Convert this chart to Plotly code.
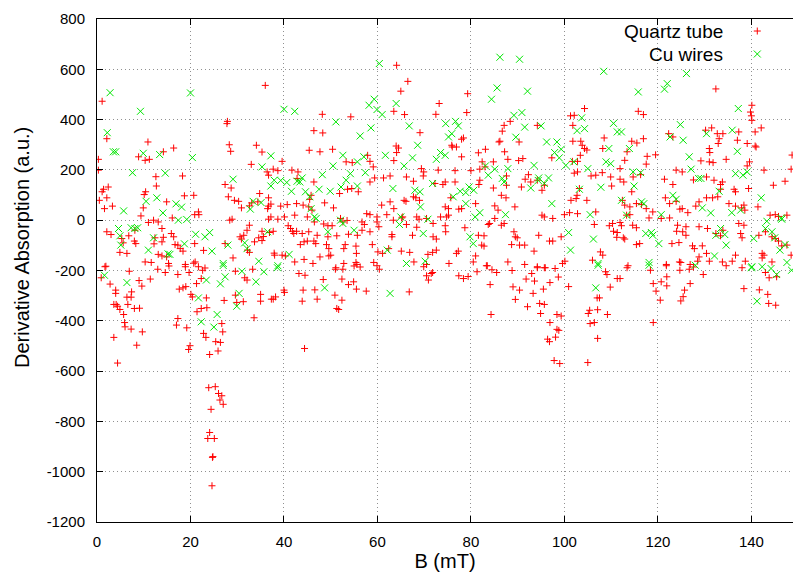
import plotly.graph_objects as go

# ---------------- data ----------------
x_tick_values = [0, 20, 40, 60, 80, 100, 120, 140]
x_tick_labels = ["0", "20", "40", "60", "80", "100", "120", "140"]
y_tick_values = [-1200, -1000, -800, -600, -400, -200, 0, 200, 400, 600, 800]
y_tick_labels = ["-1200", "-1000", "-800", "-600", "-400", "-200", "0", "200", "400", "600", "800"]

quartz_b = [
    36, 1.1, 27.8, 27.9, 2.1, 10.9, 16.4, 8.9, 10.3, 11.2,
    14.2, 0.3, 28.3, 28.6, 34.1, 35.3, 33, 0.3, 36.4, 36.7,
    12.6, 18.3, 2.4, 1.4, 1.1, 12.7, 10.4, 10.1, 27.4, 28.7,
    20.7, 18.7, 2.1, 0.5, 28.1, 29.4, 30.3, 34.8, 36.7, 14.9,
    1.6, 3.3, 9.9, 30.9, 21.7, 21.8, 9.4, 32.6, 33.1, 34.4,
    36.7, 36.5, 28.4, 28.9, 36.7, 12.1, 11.0, 13.1, 16.1, 13.9,
    2.1, 3.0, 6.8, 8.1, 8.0, 8.3, 5.3, 5.6, 12.4, 12.2,
    14.2, 13.9, 15.9, 16.4, 17.3, 16.7, 4.9, 6.4, 10.3, 11.6,
    13.1, 13.9, 14.9, 15.3, 18.4, 17.8, 18.9, 20.7, 21.0, 1.9,
    20.9, 20.9, 27.4, 30.6, 31.4, 30.9, 34.6, 33.7, 35.6, 35.3,
    32.2, 32.6, 29.1, 22.8, 32.1, 32.6, 35.3, 36.9,
    1.7, 0.9, 6.9, 2.8, 4.0, 4.0, 9.0, 9.6, 11.4, 13.0,
    14.6, 15.4, 17.3, 18.9, 19.7, 17.6, 18.4, 19.0, 20.1, 20.4,
    6.4, 7.3, 6.6, 7.4, 3.6, 4.1, 4.4, 4.9, 5.7, 8.0,
    9.1, 5.9, 6.0, 7.3, 9.7, 3.6, 8.5, 4.4, 17.3, 17.0,
    19.2, 19.9, 19.6, 21.3, 22.3, 21.7, 22.6, 23.1, 23.4, 21.4,
    22.3, 23.5, 22.8, 23.3, 26.7, 26.9, 25.4, 26.4, 24.1, 25.9,
    27.2, 23.9, 25.3, 26.0, 26.7, 26.3, 27.0, 24.4, 24.1, 23.7,
    25.1, 24.7, 24.8, 24.6, 29.6, 31.6, 32.1, 33.3, 29.6, 29.9,
    31.3, 35.0, 35.0, 33.6, 37.3,
    64.1, 66.5, 65.0, 73.2, 48.2, 54.3, 63.5, 65.8, 72.5, 69.1,
    46.4, 48.3, 45.4, 47.7, 50.4, 64.0, 64.5, 64.1, 63.5, 39.6,
    37.7, 38.7, 41.7, 43.0, 42.8, 46.4, 53.3, 54.6, 57.9, 58.4,
    59.1, 61.3, 62.7, 59.4, 58.4, 66.2, 67.7, 69.4, 69.9, 69.8,
    74.0, 72.3, 73.0, 51.9, 53.6, 54.5, 55.9, 45.8, 45.5, 37.2,
    39.3, 40.7, 42.7, 44.1, 46.0, 45.3, 48.7, 50.6, 57.7, 58.4,
    60.9, 62.7, 63.5, 65.7, 66.1, 67.7, 68.2, 69.0, 37.2, 38.7,
    40.1, 42.3, 45.0, 46.5, 48.5, 49.4, 50.3, 52.1, 52.6, 53.5,
    56.7, 57.2, 59.9, 59.9, 60.3, 62.0, 63.4, 65.2, 65.4, 66.2,
    68.4, 68.9, 70.5, 71.9, 73.5, 40.9, 41.4, 41.8, 42.1, 42.7,
    43.9, 45.3, 47.1, 37.7, 49.4, 51.3, 53.8, 55.7, 56.7, 58.4,
    63.1, 63.1, 67.5, 68.4, 71.9, 72.6, 74.6, 44.3, 45.0, 46.4,
    46.8, 43.5, 49.1, 49.6, 53.1, 52.8, 55.4, 55.5, 58.9, 60.1,
    62.4, 61.1, 65.1, 66.9, 70.8, 71.8, 72.6, 37.9, 38.0, 39.6,
    40.3, 42.3, 44.3, 46.2, 47.7, 49.6, 50.0, 51.1, 52.8, 55.4,
    55.6, 59.2, 59.9, 67.8, 70.5,
    43.2, 44.5, 48.4, 51.0, 52.6, 52.4, 53.8, 54.9, 55.5, 57.6,
    55.0, 56.3, 60.4, 40.0, 40.1, 38.2, 37.7, 44.1, 46.6, 47.1,
    43.9, 50.9, 52.4, 51.3, 51.7, 44.4, 66.8, 70.5, 70.9, 71.5,
    71.8, 69.9,
    79.3, 79.1, 104.3, 101.3, 102.1, 101.8, 87.1, 88.4, 86.7, 86.0,
    86.2, 90.3, 94.2, 101.8, 103.5, 103.8, 104.3, 104.8, 108.5, 108.2,
    78.4, 78.0, 75.9, 76.0, 76.9, 81.6, 83.1, 87.2, 87.9, 91.1,
    90.2, 78.0, 82.4, 84.8, 83.0, 97.3, 101.7, 102.8, 103.4, 76.6,
    74.5, 80.0, 81.9, 87.6, 91.6, 92.3, 92.8, 95.2, 95.7, 94.2,
    102.1, 102.8, 105.7, 106.7, 108.1, 109.9, 110.1, 111.9, 76.6, 81.9,
    81.7, 84.8, 87.6, 90.8, 86.5, 87.5, 89.4, 77.4, 78.0, 81.0,
    75.7, 74.5, 75.2, 74.8, 85.1, 85.8, 95.2, 95.7, 97.5, 100.0,
    101.1, 102.8, 101.4, 102.5, 102.7, 103.2, 104.8, 106.7, 83.7, 84.0,
    85.1, 86.5, 87.1, 78.7, 74.5, 75.2, 89.2, 89.5, 89.9, 81.6,
    82.8, 82.3, 82.8, 88.7, 90.4, 91.5, 94.5, 96.8, 97.5, 99.3,
    106.4, 109.6, 110.3, 110.5, 111.3, 111.2, 107.7, 108.2, 106.0, 93.5,
    87.9, 76.9, 77.3, 75.3, 81.0, 80.5, 83.5, 91.5, 94.2, 95.7,
    100.1, 99.6,
    77.4, 78.4, 79.4, 81.3, 83.3, 84.5, 85.5, 88.8, 94.2, 95.9,
    98.0, 84.1, 89.0, 90.4, 91.8, 93.6, 93.0, 95.5, 96.9, 98.7,
    93.3, 89.5, 92.1, 94.7, 95.7, 94.9, 84.3, 98.4, 99.3, 96.9,
    98.4, 98.8, 96.4, 96.8, 98.1, 97.8, 99.0, 100.9, 108.8, 109.1,
    111.3, 109.8, 107.0, 107.5, 105.4, 107.1, 105.1, 109.2, 105.5, 106.4,
    107.1, 105.0,
    132.4, 115.8, 116.9, 140.1, 139.8, 140.0, 140.1, 140.8, 142.1, 122.3,
    123.2, 130.2, 131.5, 132.7, 133.9, 137.3, 137.0, 133.1, 132.9, 131.0,
    131.1, 139.1, 140.8, 141.0, 114.4, 115.5, 116.9, 113.4, 112.9, 134.6,
    129.2, 131.0, 131.8, 117.7, 117.5, 119.5, 123.9, 125.2, 114.7, 116.3,
    139.6, 139.1, 142.7, 111.9, 112.7, 121.4, 123.2, 127.6, 130.4, 132.0,
    133.8, 133.4, 136.3, 136.6, 139.4, 144.7, 147.2, 114.4, 115.4, 116.5,
    112.4, 112.9, 114.0, 117.5, 118.9, 121.6, 122.5, 123.9, 124.7, 125.2,
    126.4, 128.1, 128.8, 130.4, 131.7, 132.8, 133.4, 135.2, 136.6, 137.9,
    138.6, 138.4, 141.4, 144.0, 145.1, 145.8, 147.6, 113.3, 114.0, 111.9,
    112.2, 114.6, 115.4, 112.6, 112.9, 115.4, 116.1, 118.1, 120.7, 122.5,
    124.2, 126.0, 124.0, 125.3, 126.0, 123.0, 124.5, 127.4, 127.8, 129.5,
    128.8, 130.6, 132.4, 133.4, 133.9, 137.3, 138.4, 137.7, 138.0, 141.6,
    143.0, 144.4, 145.1, 145.8, 146.5, 142.3, 142.7, 142.3, 147.6, 148.5,
    130.4, 128.8, 128.5, 124.9, 124.6, 136.6, 135.9, 133.8, 131.0, 113.6,
    121.8, 126.9, 138.7, 144.4, 148.5, 148.7,
    113.4, 118.4, 121.8, 124.7, 126.7, 127.6, 134.6, 138.0, 129.7, 111.9,
    119.0, 120.7, 121.9, 121.9, 119.6, 120.5, 126.9, 125.7, 125.4, 124.9,
    138.4, 143.0, 143.8, 145.4, 141.7, 143.5, 143.7, 145.2, 119.0,
]

quartz_abs = [
    536, 473, 384, 393, 324, 311, 287, 252, 238, 242,
    272, 242, 300, 274, 298, 271, 222, 199, 192, 179,
    173, 176, 132, 123, 113, 136, 113, 102, 142, 128,
    99, 97, 89, 79, 93, 79, 75, 106, 89, 73,
    46, 56, 49, 49, 33, 22, 17, 57, 69, 73,
    56, 46, 0, 4, 4, 0, -9, -7, 9, -33,
    -46, -57, -62, -40, -83, -93, -73, -90, -70, -94,
    -68, -86, -53, -66, -99, -97, -128, -132, -166, -168,
    -136, -142, -146, -172, -123, -113, -176, -171, -166, -183,
    22, -93, -93, -66, -60, -75, -70, -86, -65, -81,
    -119, -128, -150, -120, -40, -20, -44, -49,
    -185, -229, -203, -254, -278, -291, -240, -262, -234, -195,
    -208, -182, -216, -185, -208, -274, -269, -264, -295, -305,
    -306, -306, -335, -285, -335, -335, -342, -355, -375, -351,
    -350, -407, -424, -433, -444, -466, -497, -568, -391, -417,
    -428, -499, -514, -252, -232, -185, -199, -190, -309, -364,
    -351, -348, -450, -466, -411, -444, -483, -486, -534, -520,
    -319, -666, -662, -689, -698, -715, -732, -752, -844, -868,
    -868, -943, -940, -1056, -203, -229, -238, -195, -298, -327,
    -324, -295, -322, -388, -314,
    616, 552, 513, 464, 421, 411, 433, 420, 421, 348,
    356, 347, 278, 272, 282, 295, 287, 269, 237, 234,
    203, 197, 199, 192, 166, 152, 232, 229, 258, 234,
    212, 168, 176, 168, 152, 172, 155, 205, 192, 176,
    142, 146, 199, 106, 123, 126, 113, 99, 83, 64,
    56, 62, 66, 60, 40, 53, 69, 49, 26, 22,
    60, 73, 46, 79, 75, 93, 89, 79, 13, 4,
    13, 20, 13, -7, -15, -22, -22, 7, -7, -1,
    -7, -17, 13, -7, -26, 22, 0, 9, 13, -17,
    13, 4, 7, -13, 13, -22, -33, -44, -53, -44,
    -53, -46, -60, -44, -66, -62, -56, -60, -40, -46,
    -57, -66, -60, -28, -66, -75, -46, -86, -83, -83,
    -93, -97, -97, -113, -97, -113, -103, -132, -97, -126,
    -113, -132, -123, -128, -136, -128, -119, -131, -139, -139,
    -142, -166, -156, -172, -146, -142, -139, -189, -172, -168,
    -176, -168, -181, -166, -176,
    -212, -219, -236, -195, -195, -234, -256, -245, -274, -282,
    -182, -186, -195, -278, -287, -305, -314, -278, -277, -314,
    -322, -298, -318, -351, -355, -510, -285, -221, -238, -212,
    -208, -185,
    503, 428, 444, 415, 417, 377, 377, 393, 354, 311,
    314, 311, 377, 314, 314, 298, 285, 279, 327, 285,
    327, 322, 298, 291, 291, 268, 282, 272, 242, 245,
    237, 252, 232, 232, 212, 248, 234, 234, 258, 197,
    152, 197, 203, 176, 163, 181, 152, 119, 139, 159,
    187, 192, 176, 179, 189, 172, 136, 205, 152, 159,
    142, 128, 139, 132, 99, 89, 53, 44, 46, 66,
    89, 53, 46, 13, 57, 40, 20, 13, 7, 22,
    30, 26, 79, 86, 99, 126, 79, 33, -17, -13,
    7, -20, -13, -30, -22, 20, -46, -66, -70, -60,
    -62, -99, -103, -97, -99, -99, -60, -83, -83, -66,
    -17, -22, -13, -44, -49, -68, -126, -139, -159, -123,
    -166, -132, -123, -172, -142, -166, -181, -176, -185, -189,
    -163, -172,
    -221, -232, -224, -205, -181, -197, -208, -200, -189, -189,
    -192, -256, -265, -278, -234, -242, -212, -274, -248, -226,
    -291, -315, -344, -331, -335, -371, -375, -375, -381, -407,
    -434, -438, -473, -483, -465, -558, -570, -264, -205, -216,
    -232, -266, -309, -309, -358, -356, -371, -375, -411, -407,
    -470, -566,
    522, 433, 420, 457, 430, 415, 397, 351, 367, 344,
    331, 358, 367, 344, 344, 351, 318, 324, 305, 285,
    269, 305, 295, 291, 314, 307, 324, 272, 238, 242,
    236, 232, 229, 254, 223, 260, 199, 192, 172, 181,
    232, 216, 199, 163, 152, 163, 142, 160, 172, 159,
    152, 142, 123, 113, 126, 139, 155, 113, 66, 62,
    79, 60, 53, 46, 33, 89, 66, 75, 44, 46,
    30, 56, 73, 89, 89, 93, 123, 66, 56, 49,
    40, 60, 53, 20, 22, 15, 20, 20, 22, -9,
    -22, -20, -30, -70, -75, -97, -93, 9, 7, 9,
    -20, -26, -44, -46, -60, -93, -89, -102, -113, -102,
    -26, -33, -53, -62, -40, -13, -20, -53, -70, -60,
    -46, -66, -73, -83, -102, -132, -139, -150, -99, -139,
    -132, -146, -163, -168, -166, -139, -163, -166, -163, -181,
    -176, -176, -163, -166, 203, 259,
    -189, -199, -181, -199, -195, -186, -181, -189, -216, -232,
    -252, -245, -225, -261, -282, -318, -252, -278, -304, -321,
    -272, -208, -229, -225, -277, -295, -331, -338, -407,
]

cu_b = [
    2.8, 20.0, 9.3, 2.2, 3.5, 4.0, 9.9, 13.4, 20.4, 7.6,
    14.6, 29.1, 35.3, 37.2, 12.8, 10.5, 5.7, 16.9, 18.1, 14.1,
    17.4, 19.2, 33.4, 32.8, 35.1, 4.6, 4.9, 5.1, 7.3, 8.1,
    8.7, 12.1, 11.0, 15.6, 15.2, 18.7, 21.1, 23.1, 24.1, 24.6,
    27.0, 28.0, 32.1, 31.6, 34.6, 36.5,
    1.6, 6.4, 23.4, 21.7, 26.4, 27.4, 25.7, 22.3, 25.0, 31.0,
    30.4, 29.9, 34.0, 35.7, 27.0,
    60.4, 40.0, 42.3, 58.2, 59.3, 59.9, 61.0, 64.0, 51.1, 58.6,
    56.3, 66.8, 68.6, 74.6, 52.6, 55.7, 57.1, 61.7, 67.5, 65.7,
    72.6, 73.5, 50.5, 48.2, 37.2, 54.2, 53.3, 52.2, 57.4, 37.9,
    39.3, 40.6, 42.8, 43.9, 43.4, 41.6, 44.6, 45.5, 47.5, 49.9,
    55.7, 63.3, 68.0, 69.1, 71.8, 45.8, 46.5, 46.9, 52.1, 52.6,
    55.0, 65.0, 64.7, 69.2, 70.8, 69.8, 49.4, 41.1, 62.1, 66.2,
    70.2, 38.7, 48.7, 62.7, 38.6,
    86.2, 90.4, 108.4, 85.6, 84.4, 92.1, 89.2, 90.9, 91.5, 95.0,
    89.6, 96.2, 98.4, 99.3, 97.9, 98.9, 100.3, 76.7, 77.3, 75.2,
    75.9, 103.7, 104.3, 102.7, 110.5, 111.3, 109.5, 108.9, 109.9, 102.0,
    105.0, 107.8, 103.2, 83.1, 85.1, 83.7, 87.9, 86.7, 87.1, 93.5,
    94.5, 94.4, 95.7, 96.6, 92.8, 79.6, 80.6, 77.7, 78.9, 76.2,
    78.9, 81.9, 80.9, 87.4, 97.3, 105.5, 100.9, 101.3, 106.2, 79.8,
    80.5, 107.2, 74.5, 106.7, 107.2,
    126.1, 122.0, 121.4, 115.8, 137.2, 124.8, 122.6, 125.4, 130.4, 135.9,
    112.2, 113.9, 126.7, 137.0, 114.7, 116.3, 127.1, 128.7, 129.2, 136.6,
    138.2, 139.1, 114.9, 133.1, 123.2, 123.9, 142.1, 112.2, 113.3, 116.5,
    117.0, 120.7, 129.5, 131.3, 135.8, 137.7, 143.3, 146.4, 146.5, 117.4,
    118.6, 118.9, 120.2, 132.4, 133.4, 134.6, 134.3, 140.5, 143.0, 144.4,
    145.0, 146.1, 147.2, 132.1, 118.1, 128.0, 140.1, 142.3, 147.6, 140.0,
    144.2, 145.4, 148.6, 141.2, 118.1,
]

cu_abs = [
    507, 506, 433, 348, 272, 272, 266, 261, 249, 189,
    187, 163, 212, 136, 89, 75, 37, 65, 52, 29,
    0, 3, 75, 44, 70, -33, -62, -99, -30, -33,
    -30, -70, -119, -136, -134, -94, -56, -66, -49, -123,
    -172, -99, -113, -90, -163, -46,
    -219, -248, -238, -309, -253, -225, -375, -404, -425, -203,
    -291, -342, -245, -205, -180,
    623, 441, 433, 457, 481, 440, 420, 464, 391, 367,
    335, 375, 298, 384, 258, 232, 252, 258, 248, 216,
    242, 269, 216, 181, 256, 185, 159, 132, 189, 159,
    158, 150, 155, 168, 152, 115, 113, 93, 123, 115,
    136, 126, 119, 113, 146, 46, 13, 7, 0, -13,
    -40, 13, -17, 53, 4, -53, -46, -136, -119, -172,
    -163, -181, -269, -291, -189,
    648, 640, 592, 526, 481, 513, 417, 428, 370, 375,
    330, 311, 311, 282, 269, 248, 218, 393, 375, 331,
    344, 407, 364, 356, 385, 351, 285, 232, 225, 232,
    205, 131, 123, 216, 203, 179, 205, 166, 152, 218,
    168, 158, 146, 168, 128, 132, 119, 115, 110, 93,
    66, 30, 13, 22, 66, 22, -49, -119, -75, -66,
    -93, -172, 258, -269, -179,
    583, 543, 521, 510, 444, 380, 331, 318, 344, 358,
    351, 285, 252, 274, 192, 189, 203, 166, 166, 185,
    179, 192, 136, 115, 99, 83, 89, 79, 20, 73,
    66, 22, 49, 29, 30, 40, -4, 9, 4, -53,
    -49, -60, -93, -60, -33, -99, -57, -73, -33, -46,
    -70, -119, -97, -142, -168, -179, -185, -185, -168, -189,
    -192, -216, -199, -322, -179,
]

series_names = ["Quartz tube", "Cu wires"]
series_colors = ["#ff0000", "#00e600"]

assert len(quartz_b) == len(quartz_abs), (len(quartz_b), len(quartz_abs))
assert len(cu_b) == len(cu_abs), (len(cu_b), len(cu_abs))

# ---------------- figure ----------------
fig = go.Figure()
fig.add_trace(go.Scatter(
    x=quartz_b, y=quartz_abs, mode="markers", name=series_names[0],
    marker=dict(symbol="cross-thin", size=5, color=series_colors[0],
                line=dict(width=1, color=series_colors[0])),
    showlegend=False,
))
fig.add_trace(go.Scatter(
    x=cu_b, y=cu_abs, mode="markers", name=series_names[1],
    marker=dict(symbol="x-thin", size=7, color=series_colors[1],
                line=dict(width=1, color=series_colors[1])),
    showlegend=False,
))

font_family = "Liberation Sans, Arial, Helvetica, sans-serif"
grid_color = "#909090"
grid_dash = "1px,3px"

fig.update_layout(
    width=793, height=578,
    margin=dict(l=97, r=0, t=19, b=56, pad=0),
    plot_bgcolor="white", paper_bgcolor="white",
    font=dict(family=font_family, size=15, color="black"),
    showlegend=False,
)
fig.update_xaxes(
    range=[0, 148.9], tickvals=x_tick_values, ticktext=x_tick_labels,
    showgrid=True, gridcolor=grid_color, griddash=grid_dash, gridwidth=1,
    zeroline=False, showline=True, linecolor="black", linewidth=1,
    mirror="ticks", ticks="inside", ticklen=6, tickcolor="black",
    ticklabelstandoff=6, automargin=False,
    title=dict(text="B (mT)", font=dict(size=20), standoff=4),
)
fig.update_yaxes(
    range=[-1200, 800], tickvals=y_tick_values, ticktext=y_tick_labels,
    showgrid=True, gridcolor=grid_color, griddash=grid_dash, gridwidth=1,
    zeroline=False, showline=True, linecolor="black", linewidth=1,
    mirror=False, ticks="inside", ticklen=6, tickcolor="black",
    ticklabelstandoff=8, automargin=False,
)

# y-axis title (placed like gnuplot's ylabel)
fig.add_annotation(
    text="Derivative Absorption (a.u.)", textangle=-90,
    xref="paper", yref="paper", x=-0.1078, y=0.5467,
    xanchor="center", yanchor="middle", showarrow=False,
    font=dict(size=20, family=font_family, color="black"),
)

# gnuplot-style key: text right-aligned, sample marker to the right
key_rows = [0.9761, 0.9304]
key_text_x = 0.9009
key_marker_x = 0.9487
for name, yrow in zip(series_names, key_rows):
    fig.add_annotation(
        text=name, xref="paper", yref="paper", x=key_text_x, y=yrow,
        xanchor="right", yanchor="middle", showarrow=False, borderpad=0,
        font=dict(size=19, family=font_family, color="black"),
    )
common = dict(xref="paper", yref="paper", xsizemode="pixel", ysizemode="pixel")
# red plus
fig.add_shape(type="line", **common, xanchor=key_marker_x, yanchor=key_rows[0],
              x0=-3.5, x1=3.5, y0=0, y1=0, line=dict(color=series_colors[0], width=1))
fig.add_shape(type="line", **common, xanchor=key_marker_x, yanchor=key_rows[0],
              x0=0, x1=0, y0=-3.5, y1=3.5, line=dict(color=series_colors[0], width=1))
# green cross
fig.add_shape(type="line", **common, xanchor=key_marker_x, yanchor=key_rows[1],
              x0=-3.5, x1=3.5, y0=-3.5, y1=3.5, line=dict(color=series_colors[1], width=1))
fig.add_shape(type="line", **common, xanchor=key_marker_x, yanchor=key_rows[1],
              x0=-3.5, x1=3.5, y0=3.5, y1=-3.5, line=dict(color=series_colors[1], width=1))

fig.write_html("out.html")
